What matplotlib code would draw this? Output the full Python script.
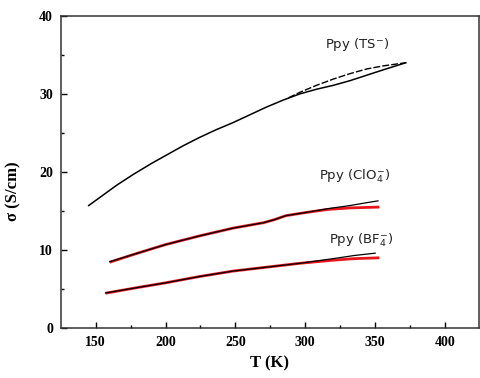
import numpy as np
import matplotlib
matplotlib.use("Agg")
import matplotlib.pyplot as plt
from matplotlib.ticker import MultipleLocator

# Ppy (TS-) : main branch + upper return branch
ts_T = [145, 155, 165, 177, 190, 200, 212, 224, 236, 248, 260, 272, 284, 296,
        308, 320, 332, 344, 356, 372]
ts_s = [15.7, 17.0, 18.3, 19.7, 21.1, 22.1, 23.3, 24.4, 25.4, 26.3, 27.3, 28.3,
        29.2, 30.0, 30.6, 31.1, 31.7, 32.4, 33.1, 34.0]
ts_up_T = [288, 296, 308, 320, 332, 344, 356, 372]
ts_up_s = [29.5, 30.2, 31.1, 31.9, 32.6, 33.2, 33.6, 34.0]

# Ppy (ClO4-)
clo4_T = [160, 180, 200, 224, 248, 270, 278, 286, 300, 316, 332, 345, 352]
clo4_s = [8.5, 9.6, 10.7, 11.8, 12.8, 13.5, 13.9, 14.4, 14.8, 15.3, 15.7, 16.1, 16.3]
clo4_red_T = [161, 180, 200, 224, 248, 270, 278, 286, 300, 316, 332, 352]
clo4_red_s = [8.5, 9.6, 10.7, 11.8, 12.8, 13.5, 13.9, 14.4, 14.8, 15.2, 15.4, 15.5]

# Ppy (BF4-)
bf4_T = [157, 180, 200, 224, 248, 272, 296, 320, 335, 350]
bf4_s = [4.5, 5.2, 5.8, 6.6, 7.3, 7.8, 8.3, 8.9, 9.3, 9.6]
bf4_red_T = [158, 180, 200, 224, 248, 272, 296, 320, 335, 352]
bf4_red_s = [4.5, 5.2, 5.8, 6.6, 7.3, 7.8, 8.3, 8.7, 8.9, 9.0]

fig = plt.figure(figsize=(4.8, 3.78), dpi=100)
ax = fig.add_axes([0.128, 0.132, 0.869, 0.826])

ax.plot(clo4_red_T, clo4_red_s, color="#e8151b", lw=2.0)
ax.plot(bf4_red_T, bf4_red_s, color="#e8151b", lw=2.0)
ax.plot(ts_T, ts_s, color="black", lw=1.1)
ax.plot(ts_up_T, ts_up_s, color="black", lw=1.0, ls=(0, (5, 1.5)))
ax.plot(clo4_T, clo4_s, color="black", lw=0.9)
ax.plot(bf4_T, bf4_s, color="black", lw=0.9)

tfont = dict(family="DejaVu Sans", fontsize=9.5, ha="center", va="center", color="#222222")
ax.text(337, 36.3, "Ppy (TS$^{-}$)", **tfont)
ax.text(335, 19.4, "Ppy (ClO$_4^{-}$)", **tfont)
ax.text(340, 11.3, "Ppy (BF$_4^{-}$)", **tfont)

ax.set_xlim(125.5, 424)
ax.set_ylim(0, 40)
ax.xaxis.set_major_locator(MultipleLocator(50))
ax.xaxis.set_minor_locator(MultipleLocator(25))
ax.yaxis.set_major_locator(MultipleLocator(10))
ax.yaxis.set_minor_locator(MultipleLocator(5))
ax.tick_params(which="both", direction="in", top=False, right=False)
ax.tick_params(which="major", length=4, width=1, pad=6)
ax.tick_params(which="minor", length=2, width=1)
for lab in ax.get_xticklabels() + ax.get_yticklabels():
    lab.set_fontfamily("Liberation Serif")
    lab.set_fontweight("bold")
    lab.set_fontsize(10)
for sp in ax.spines.values():
    sp.set_linewidth(1.1)
    sp.set_color("#333333")

ax.set_xlabel("T (K)", fontfamily="Liberation Serif", fontweight="bold", fontsize=12, labelpad=4)
ax.set_ylabel("σ (S/cm)", fontfamily="Liberation Serif", fontweight="bold", fontsize=12)
ax.yaxis.set_label_coords(-0.095, 0.44)

fig.savefig("out.png", dpi=100)
